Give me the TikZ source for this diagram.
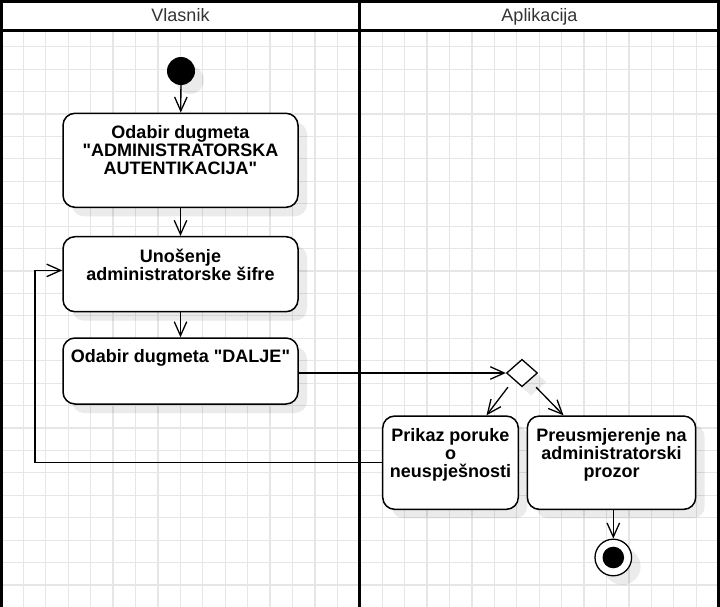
\documentclass[tikz,border=0pt]{standalone}
\usepackage{fontspec}
\setmainfont{Liberation Sans}
\usetikzlibrary{arrows.meta,shapes.geometric,shadows}
\definecolor{gridgray}{HTML}{E6E6E6}
\definecolor{titlegray}{HTML}{333333}
\newcommand{\dq}{\textquotedbl}
\tikzset{
  gridline/.style={draw=gridgray,line width=1.2pt},
  lane/.style={line width=3pt},
  lanetitle/.style={anchor=base,inner sep=0pt,text=titlegray,font=\fontsize{18}{20}\selectfont},
  softshadow/.style={drop shadow={shadow xshift=9pt,shadow yshift=-9pt,fill=black,opacity=.08}},
  actbox/.style={draw,line width=1.5pt,rounded corners=12pt,fill=white,inner sep=0pt,softshadow},
  boxtext/.style={anchor=north,yshift=-12.5pt,align=center,inner sep=0pt,font=\bfseries\fontsize{18}{18.3}\selectfont},
  startdot/.style={circle,fill=black,minimum size=28pt,inner sep=0pt,softshadow},
  enddot/.style={circle,draw,line width=1.3pt,fill=white,minimum size=36.6pt,inner sep=0pt,softshadow,
    path picture={\fill[black] (path picture bounding box.center) circle (10.8pt);}},
  choice/.style={diamond,draw,line width=1.3pt,fill=white,aspect=1.14,minimum width=31pt,minimum height=27.4pt,inner sep=0pt,softshadow},
  flow/.style={line width=1.3pt,-{Straight Barb[length=14pt,width=12.5pt]}}
}

\begin{document}
\begin{tikzpicture}[x=1pt,y=-1pt]
\useasboundingbox (0,0) rectangle (720,607);
% grid
\foreach \k in {0,...,32}
  \draw[gridline] ({0.9+22.43*\k},31) -- ({0.9+22.43*\k},607);
\foreach \k in {0,...,25}
  \draw[gridline] (0,{46.7+22.43*\k}) -- (720,{46.7+22.43*\k});
% swimlanes
\draw[lane] (1.5,1.5) rectangle (359.5,620);
\draw[lane] (359.5,1.5) rectangle (718.5,620);
\draw[lane] (1.5,30.5) -- (718.5,30.5);
\node[lanetitle] (vlasnik) at (180.5,21.5) {Vlasnik};
\node[lanetitle] (aplikacija) at (539.5,21.5) {Aplikacija};
% activities
\node[startdot] (start) at (181,71) {};
\node[actbox,minimum width=235pt,minimum height=94pt,
  label={[boxtext]north:{Odabir dugmeta\\\dq ADMINISTRATORSKA\\AUTENTIKACIJA\dq}}] (b1) at (180.5,160.3) {};
\node[actbox,minimum width=235pt,minimum height=75pt,
  label={[boxtext]north:{Unošenje\\administratorske šifre}}] (b2) at (180.5,274.2) {};
\node[actbox,minimum width=235pt,minimum height=66pt,
  label={[boxtext]north:{Odabir dugmeta \dq DALJE\dq}}] (b3) at (180.5,371) {};
\node[choice] (dia) at (522,373) {};
\node[actbox,minimum width=135.6pt,minimum height=93.3pt,
  label={[boxtext]north:{Prikaz poruke\\o\\neuspješnosti}}] (b4) at (450.5,462.7) {};
\node[actbox,minimum width=168.4pt,minimum height=93.3pt,
  label={[boxtext]north:{Preusmjerenje na\\administratorski\\prozor}}] (b5) at (611.5,462.7) {};
\node[enddot] (finish) at (613.3,557.5) {};
% flows
\coordinate (turn) at (35,0);
\draw[flow] (start) -- (b1);
\draw[flow] (b1) -- (b2);
\draw[flow] (b2) -- (b3);
\draw[flow] (b3.east |- dia.west) -- (dia.west);
\draw[flow] ([shift={(-6,7)}]dia.south west) -- ([xshift=36pt]b4.north);
\draw[flow] ([shift={(6,7)}]dia.south east) -- ([xshift=-48pt]b5.north);
\draw[flow] (b4.west) -- (b4.west -| turn) |- ([yshift=3.8pt]b2.west);
\draw[flow] (b5.south -| finish.north) -- (finish.north);
\end{tikzpicture}
\end{document}
